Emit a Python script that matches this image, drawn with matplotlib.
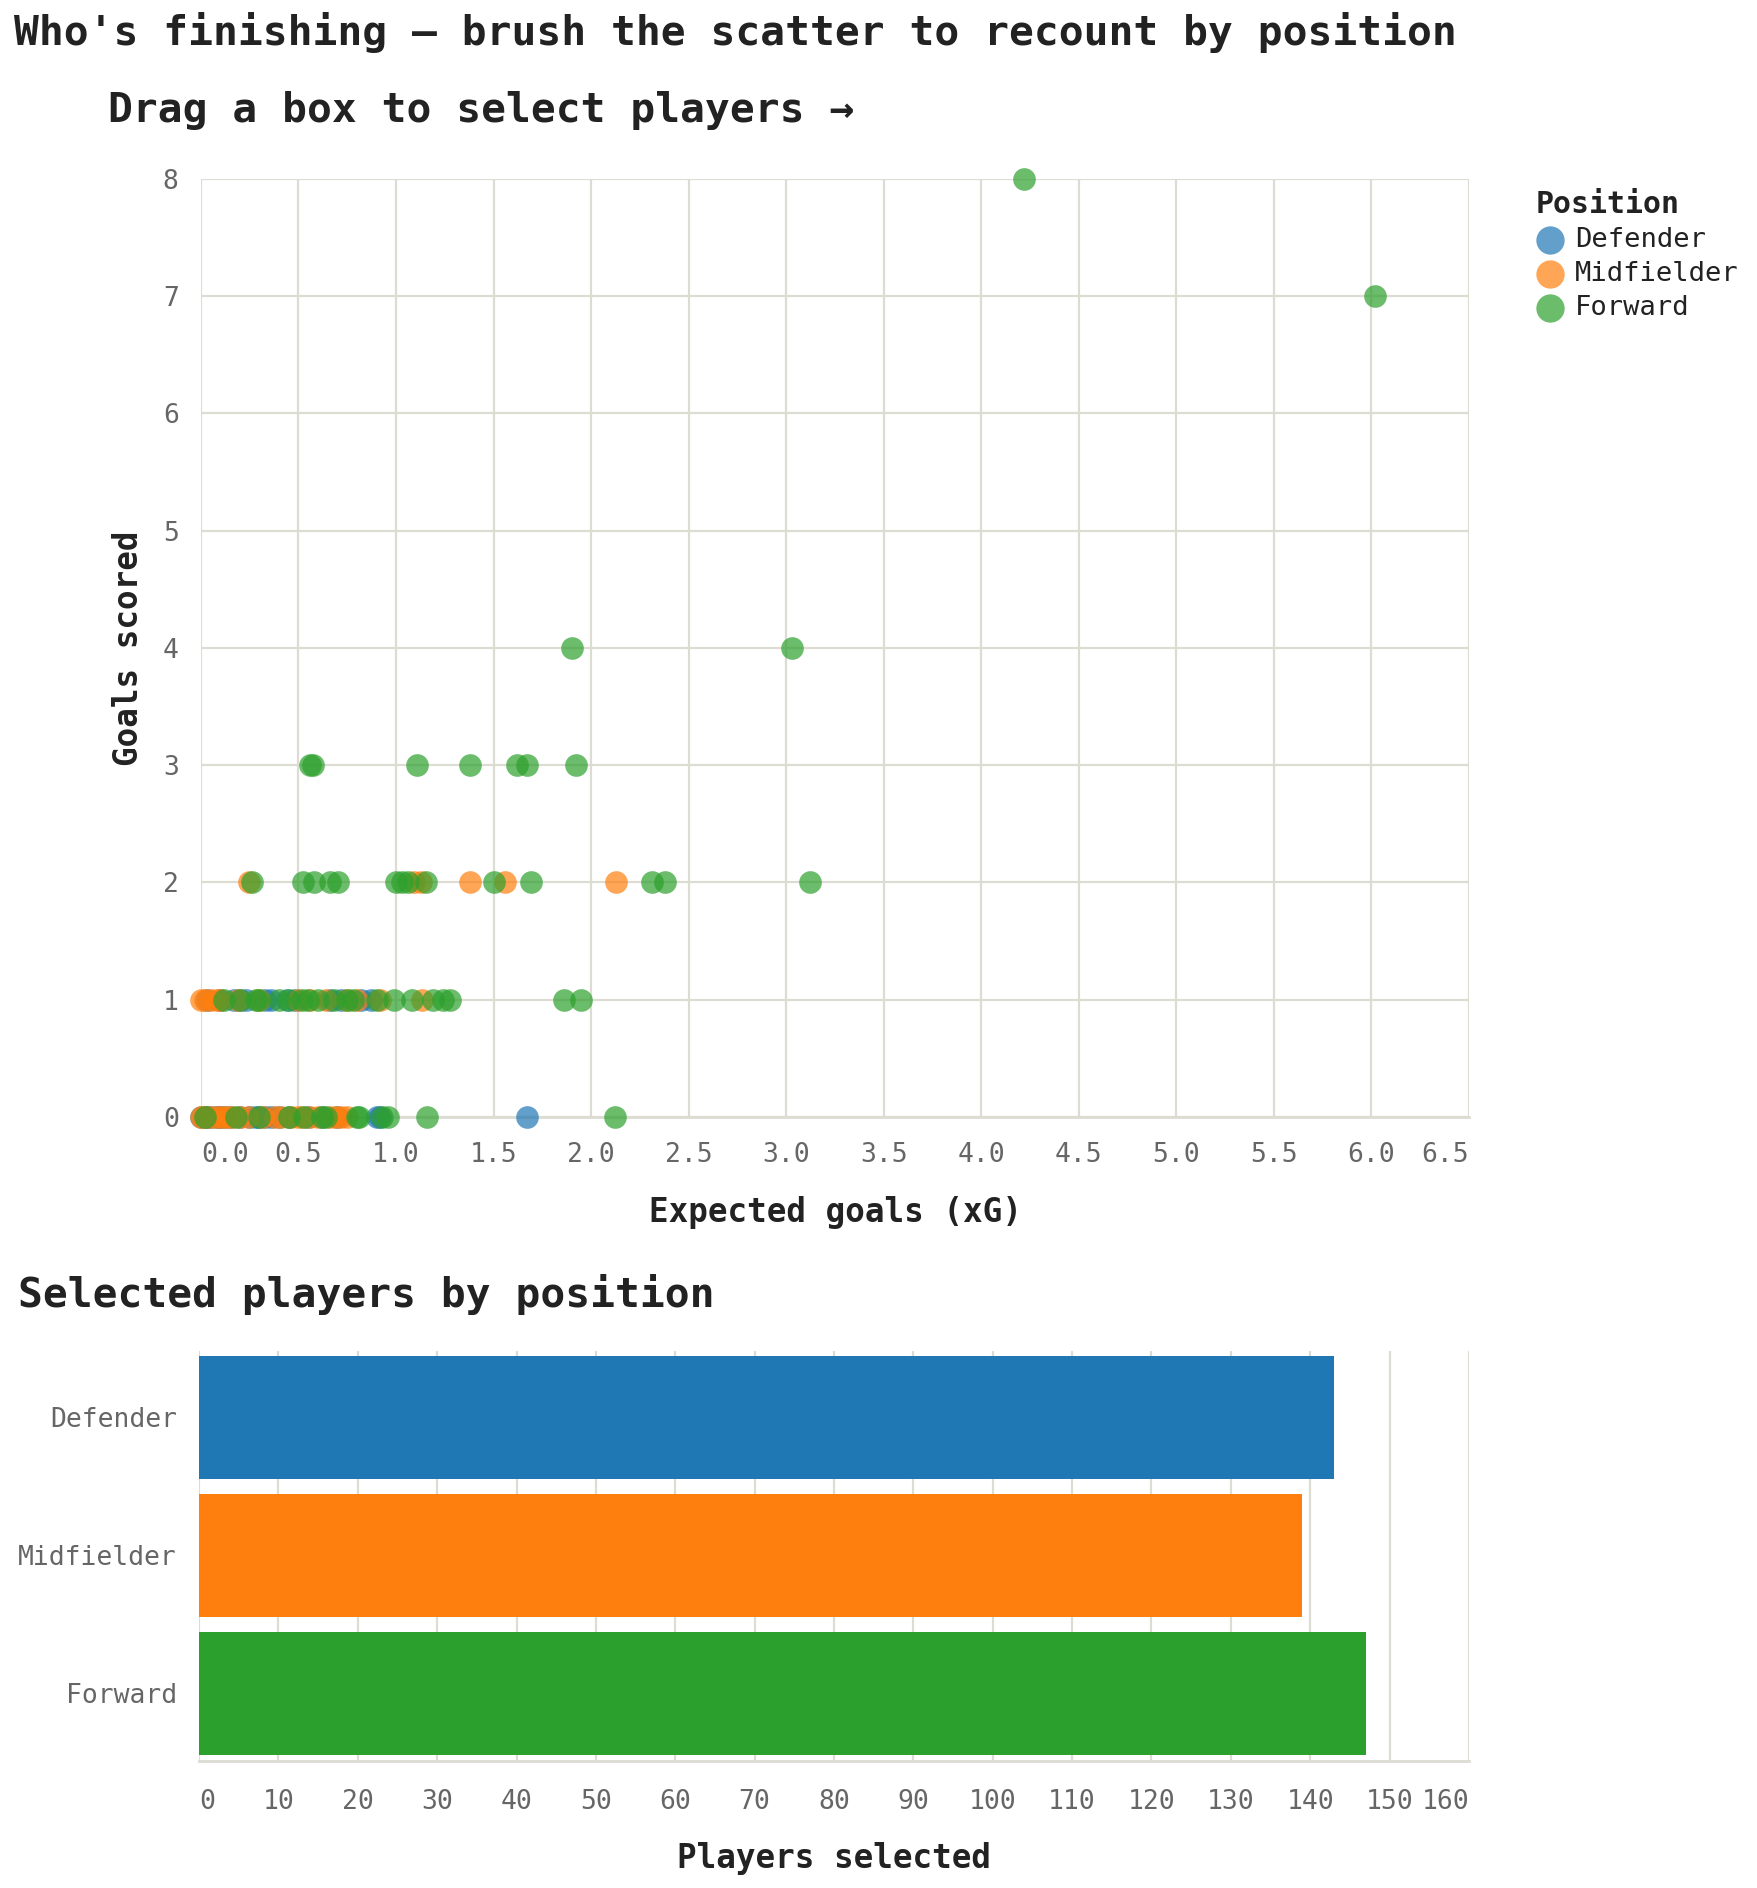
import numpy as np
import matplotlib
matplotlib.use("Agg")
import matplotlib.pyplot as plt

# ---- data ----
positions = ["Defender", "Midfielder", "Forward"]
colors = ["#1f77b4", "#ff7f0e", "#2ca02c"]

def_xg = [0.0, 0.02, 0.03, 0.05, 0.08, 0.10, 0.12, 0.15, 0.20, 0.25, 0.28,
          0.30, 0.33, 0.36, 0.40, 0.45, 0.55, 0.62, 0.70, 0.90, 0.92, 1.67,
          0.03, 0.10, 0.17, 0.20, 0.23, 0.33, 0.36, 0.44, 0.48, 0.66, 0.72,
          0.82, 0.87]
def_goals = [0] * 22 + [1] * 13

mid_xg = [0.0, 0.01, 0.04, 0.07, 0.10, 0.12, 0.14, 0.16, 0.20, 0.24, 0.32,
          0.38, 0.41, 0.46, 0.50, 0.52, 0.56, 0.60, 0.66, 0.69, 0.72, 0.75,
          0.0, 0.02, 0.05, 0.08, 0.10, 0.19, 0.30, 0.50, 0.56, 0.64, 0.75,
          0.80, 0.92, 1.135,
          0.245, 1.09, 1.13, 1.38, 1.56, 2.13]
mid_goals = [0] * 22 + [1] * 14 + [2] * 6

fwd_xg = [0.02, 0.18, 0.30, 0.45, 0.53, 0.62, 0.64, 0.80, 0.81, 0.93, 0.96,
          1.16, 2.12,
          0.12, 0.20, 0.28, 0.30, 0.40, 0.45, 0.52, 0.55, 0.60, 0.68, 0.75,
          0.78, 0.90, 0.99, 1.08, 1.19, 1.24, 1.275, 1.86, 1.95,
          0.264, 0.525, 0.578, 0.66, 0.705, 1.00, 1.03, 1.06, 1.155, 1.50,
          1.69, 2.31, 2.38, 3.12,
          0.557, 0.573, 1.11, 1.38, 1.62, 1.67, 1.92,
          1.90, 3.03,
          6.02,
          4.22]
fwd_goals = [0] * 13 + [1] * 20 + [2] * 14 + [3] * 7 + [4] * 2 + [7] + [8]

selected_counts = [143, 139, 147]

xg_ticks = np.arange(0, 6.51, 0.5)
goal_ticks = list(range(0, 9))
count_ticks = list(range(0, 161, 10))

# ---- style ----
plt.rcParams['font.family'] = ['DejaVu Sans Mono', 'DejaVu Sans']
TEXT = "#222222"
TICK = "#666666"
GRID = "#dddcd3"

fig = plt.figure(figsize=(17.58, 18.88), dpi=100)


def style_axis(ax):
    for side in ["top", "right", "left"]:
        ax.spines[side].set_visible(False)
    ax.spines["bottom"].set_color(GRID)
    ax.spines["bottom"].set_linewidth(2)
    ax.tick_params(length=0, labelsize=19, labelcolor=TICK)
    ax.grid(True, color=GRID, linewidth=1.6)
    ax.set_axisbelow(True)


def flush_ends(labels):
    labels[0].set_horizontalalignment("left")
    labels[-1].set_horizontalalignment("right")


# ---- scatter ----
ax = fig.add_axes([0.1143, 0.4084, 0.7213, 0.4968])
style_axis(ax)
for name, c, xs, ys in zip(positions, colors,
                           [def_xg, mid_xg, fwd_xg],
                           [def_goals, mid_goals, fwd_goals]):
    ax.scatter(xs, ys, s=266, color=c, alpha=0.7, linewidths=0,
               label=name, clip_on=False, zorder=3)
ax.set_xlim(0, 6.5)
ax.set_ylim(0, 8)
ax.set_xticks(xg_ticks)
ax.set_xticklabels([f"{v:.1f}" for v in xg_ticks])
ax.set_yticks(goal_ticks)
ax.tick_params(axis="x", pad=18)
ax.tick_params(axis="y", pad=16)
flush_ends(ax.get_xticklabels())
ax.set_xlabel("Expected goals (xG)", fontsize=23.5, fontweight="bold",
              color=TEXT, labelpad=20)
ax.set_ylabel("Goals scored", fontsize=23.5, fontweight="bold",
              color=TEXT, labelpad=13)

leg = ax.legend(title="Position", loc="upper left",
                bbox_to_anchor=(1522 / 1758, 1 - 176 / 1888),
                bbox_transform=fig.transFigure, frameon=False,
                fontsize=19.5, title_fontproperties={"size": 21.5, "weight": "bold"},
                markerscale=1.25, handletextpad=0.35, labelspacing=0.3,
                borderpad=0, alignment="left", handlelength=1.1)
for t in leg.get_texts():
    t.set_color(TEXT)
leg.get_title().set_color(TEXT)

fig.text(0.008, 0.983, "Who's finishing \u2014 brush the scatter to recount by position",
         fontsize=29.7, fontweight="bold", color=TEXT, va="center", ha="left")
fig.text(0.0614, 0.9417, "Drag a box to select players \u2192",
         fontsize=29.7, fontweight="bold", color=TEXT, va="center", ha="left")

# ---- bar chart ----
bx = fig.add_axes([0.1132, 0.0673, 0.7224, 0.2171])
style_axis(bx)
bx.grid(False, axis="y")
ypos = np.arange(len(positions))
bx.barh(ypos, selected_counts, height=0.89, color=colors, zorder=3)
bx.set_xlim(0, 160)
bx.set_ylim(2.49, -0.48)
bx.set_xticks(count_ticks)
bx.set_yticks(ypos)
bx.set_yticklabels(positions)
bx.tick_params(axis="x", pad=20)
bx.tick_params(axis="y", pad=16)
flush_ends(bx.get_xticklabels())
bx.set_xlabel("Players selected", fontsize=23.5, fontweight="bold",
              color=TEXT, labelpad=20)
fig.text(0.0102, 0.3146, "Selected players by position",
         fontsize=29.7, fontweight="bold", color=TEXT, va="center", ha="left")

fig.savefig("out.png", dpi=100)
